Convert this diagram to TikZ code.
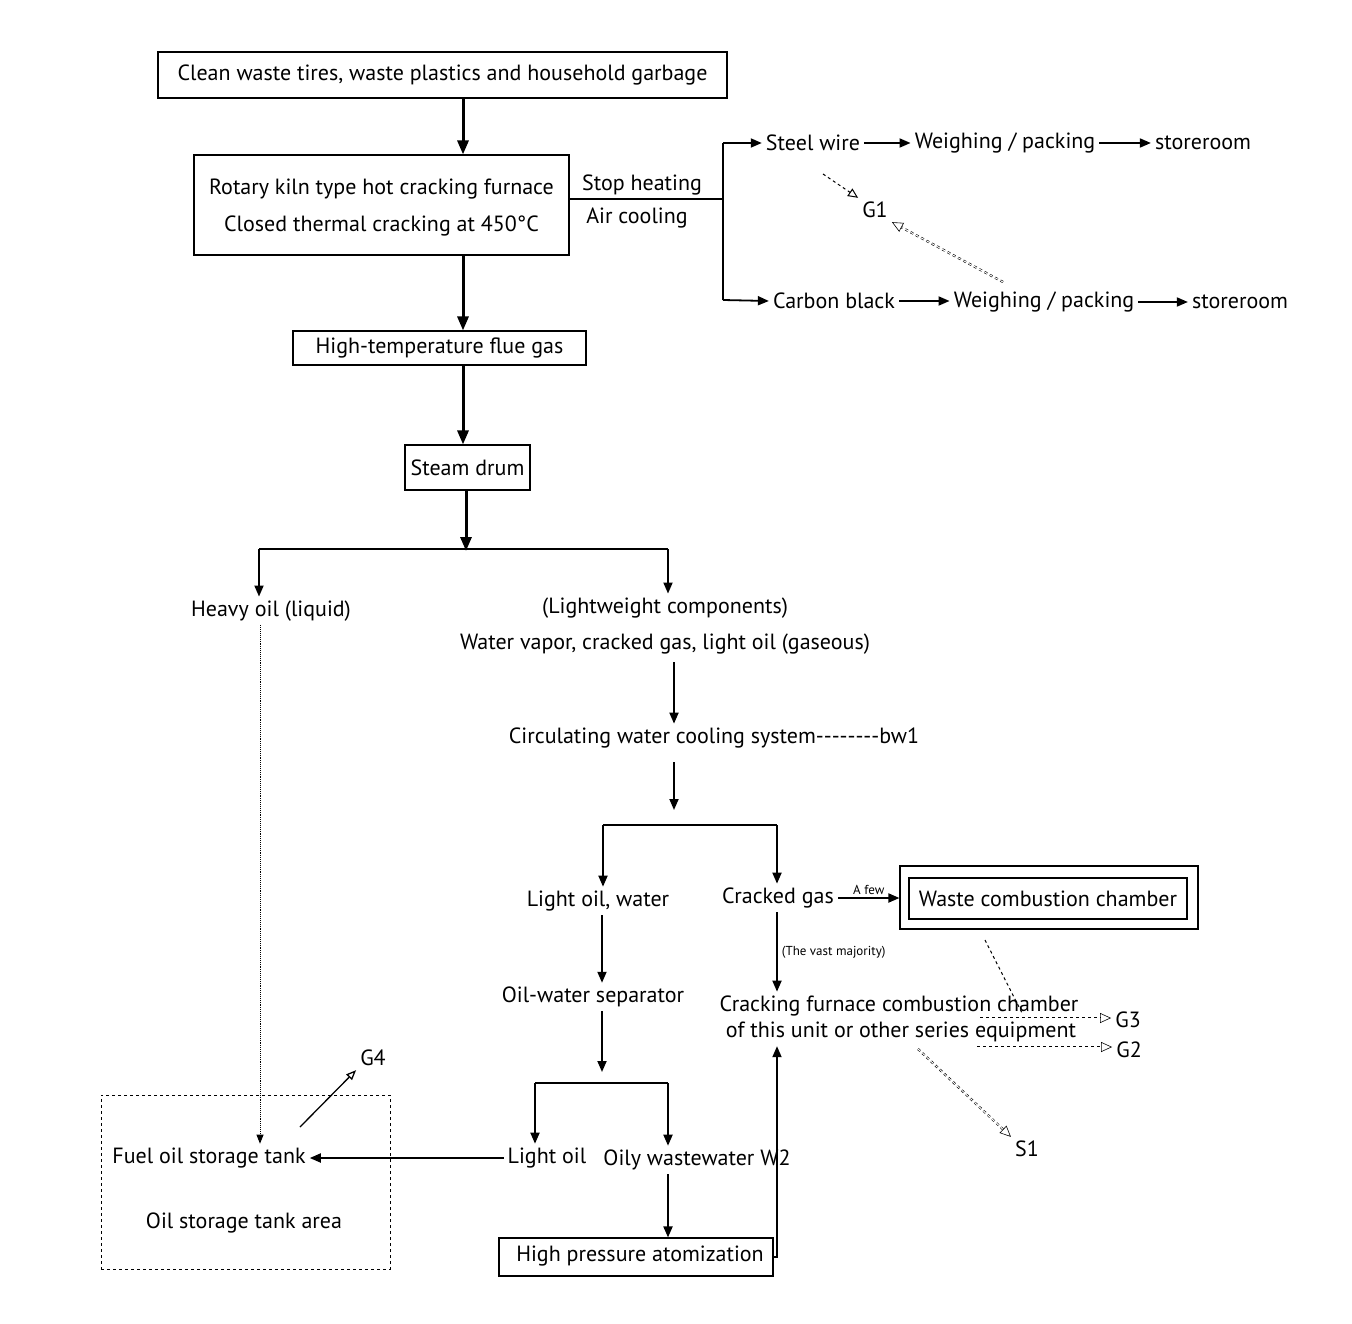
\documentclass[tikz,border=0pt]{standalone}
\usepackage{fontspec}
\setmainfont{PT Sans}
\usetikzlibrary{arrows.meta,calc}
\begin{document}
\begin{tikzpicture}[x=1pt,y=-1pt,
  every node/.style={font=\fontsize{22}{26}\selectfont, inner sep=4pt},
  box/.style={draw, line width=1.1pt, inner sep=0pt},
  dbox/.style={draw, dashed, line width=0.8pt, inner sep=0pt},
  small/.style={font=\fontsize{13}{15}\selectfont, inner sep=1pt},
  flow/.style={line width=1.8pt, -{Triangle[length=11pt,width=9pt]}},
  bigflow/.style={line width=3pt, -{Triangle[length=14pt,width=11pt]}},
  plain/.style={line width=1.8pt},
  emit/.style={dashed, line width=1pt, -{Triangle[open,length=10pt,width=9pt]}},
  emittwo/.style={dashed, draw=black, double=white, double distance=1pt, line width=0.6pt, -{Triangle[open,length=11pt,width=10pt]}},
  oilline/.style={densely dotted, line width=0.9pt, -{Triangle[length=9pt,width=7pt]}},
  thin/.style={line width=1.3pt, -{Triangle[open,length=10pt,width=8pt]}},
]
\useasboundingbox (0,0) rectangle (1352,1324);

% x columns
\coordinate (xA) at (463,0);
\coordinate (xB) at (466,0);
\coordinate (xC) at (674,0);
\coordinate (xD) at (602,0);
\coordinate (xE) at (777,0);
\coordinate (xF) at (668,0);
\coordinate (xH) at (260,0);

% top
\node[box, minimum width=569pt, minimum height=46pt] (raw) at (442.5,75) {Clean waste tires, waste plastics and household garbage};
\node[box, minimum width=375pt, minimum height=100pt] (kiln) at (381.5,205) {};
\node (kilnone) at (381.5,189) {Rotary kiln type hot cracking furnace};
\node (kilntwo) at (381.5,226) {Closed thermal cracking at 450°C};
\draw[bigflow] (raw.south -| xA) -- (kiln.north -| xA);

\node (stop) at (642,185) {Stop heating};
\node (aircool) at (637,218) {Air cooling};
\coordinate (split) at (723,199);
\coordinate (swtop) at (723,143);
\coordinate (cbbot) at (723,300);
\draw[plain] (kiln.east |- split) -- (split);
\draw[plain] (swtop) -- (cbbot);

\node (steel) at (813,143) {Steel wire};
\node (wpone) at (1005,143) {Weighing / packing};
\node (stone) at (1203,143) {storeroom};
\draw[flow] (swtop) -- (steel.west);
\draw[flow] (steel.east) -- (wpone.west);
\draw[flow] (wpone.east) -- (stone.west);

\node (cb) at (834,301) {Carbon black};
\node (wptwo) at (1044,302) {Weighing / packing};
\node (sttwo) at (1240,302) {storeroom};
\draw[flow] (cbbot) -- (cb.west);
\draw[flow] (cb.east) -- (wptwo.west |- cb.east);
\draw[flow] (wptwo.east) -- (sttwo.west);

\node (gone) at (875,210) {G1};
\coordinate (gonea) at (823,174);
\coordinate (goneb) at (1003,282);
\draw[emit] (gonea) -- (gone.north west);
\draw[emittwo] (goneb) -- (gone.south east);

% main column
\node[box, minimum width=293pt, minimum height=34pt] (flue) at (439.5,348) {High-temperature flue gas};
\draw[bigflow] (kiln.south -| xA) -- (flue.north -| xA);
\node[box, minimum width=125pt, minimum height=45pt] (drum) at (467.5,467.5) {Steam drum};
\draw[bigflow] (flue.south -| xA) -- (drum.north -| xA);

\coordinate (barL) at (259,549);
\coordinate (barR) at (668,549);
\coordinate (barM) at (466,551);
\draw[plain] (barL) -- (barR);
\draw[bigflow] (drum.south -| xB) -- (barM);

\node (hoil) at (271,611) {Heavy oil (liquid)};
\node (lwone) at (665,608) {(Lightweight components)};
\node (lwtwo) at (665,644) {Water vapor, cracked gas, light oil (gaseous)};
\draw[flow] (barL) -- (barL |- hoil.north);
\draw[flow] (barR) -- (barR |- lwone.north);

\node (cool) at (714,738) {Circulating water cooling system-{}-{}-{}-{}-{}-{}-{}-bw1};
\draw[flow, shorten <=4pt] (lwtwo.south -| xC) -- (cool.north -| xC);

\coordinate (btwoL) at (603,825);
\coordinate (btwoR) at (777,825);
\coordinate (coolarr) at (674,810);
\draw[flow, shorten <=10pt] (cool.south -| xC) -- (coolarr);
\draw[plain] (btwoL) -- (btwoR);

\node (low) at (598,901) {Light oil, water};
\node (cg) at (778,898) {Cracked gas};
\draw[flow] (btwoL) -- (btwoL |- low.north);
\draw[flow] (btwoR) -- (btwoR |- cg.north);

\node[box, minimum width=298pt, minimum height=63pt] (wccout) at (1049,897.5) {};
\node[box, minimum width=278pt, minimum height=41pt] (wcc) at (1048,898.5) {Waste combustion chamber};
\draw[flow] (cg.east) -- (wccout.west |- cg) node[small, midway, above=1pt] {A few};

\node (ows) at (593,997) {Oil-water separator};
\draw[flow] (low.south -| xD) -- (ows.north -| xD);

\node (cfcone) at (899,1006) {Cracking furnace combustion chamber};
\node (cfctwo) at (901,1032) {of this unit or other series equipment};
\draw[flow] (cg.south -| xE) -- (cfcone.north -| xE) node[small, midway, right=3pt] {(The vast majority)};

\node (gthree) at (1128,1020) {G3};
\node (gtwo) at (1129,1050) {G2};
\node (sone) at (1027,1149) {S1};
\coordinate (wcca) at (985,940);
\coordinate (wccb) at (1022,1013);
\coordinate (gthreea) at (980,1018);
\coordinate (gtwoa) at (977,1047);
\coordinate (sonea) at (918,1049);
\draw[dashed, line width=1pt] (wcca) -- (wccb);
\draw[emittwo] (gthreea) -- (gthree.west |- gthreea);
\draw[emittwo] (gtwoa) -- (gtwo.west |- gtwoa);
\draw[emittwo] (sonea) -- (sone.north west);

% lower branch
\coordinate (bthrL) at (535,1083);
\coordinate (bthrR) at (668,1083);
\coordinate (owsarr) at (602,1072);
\draw[flow] (ows.south -| xD) -- (owsarr);
\draw[plain] (bthrL) -- (bthrR);

\node (lo) at (547,1158) {Light oil};
\node (oww) at (697,1160) {Oily wastewater W2};
\draw[flow] (bthrL) -- (bthrL |- lo.north);
\draw[flow] (bthrR) -- (bthrR |- oww.north);

\node[dbox, minimum width=289pt, minimum height=174pt] (area) at (245.5,1182) {};
\node (fuel) at (209,1158) {Fuel oil storage tank};
\node (areat) at (244,1223) {Oil storage tank area};
\draw[flow] (lo.west) -- (fuel.east |- lo.west);
\draw[oilline] (hoil.south -| xH) -- (fuel.north -| xH);

\node (gfour) at (373,1058) {G4};
\coordinate (gfoura) at (300,1127);
\draw[thin] (gfoura) -- (gfour.south west);

\node[box, minimum width=274pt, minimum height=38pt] (hpa) at (636,1257) {};
\node (hpat) at (640,1256) {High pressure atomization};
\draw[flow] (oww.south -| xF) -- (hpa.north -| xF);
\coordinate (hparet) at (777,1257);
\draw[flow] (hpa.east) -- (hparet) -- (cfctwo.south -| xE);

\end{tikzpicture}
\end{document}
